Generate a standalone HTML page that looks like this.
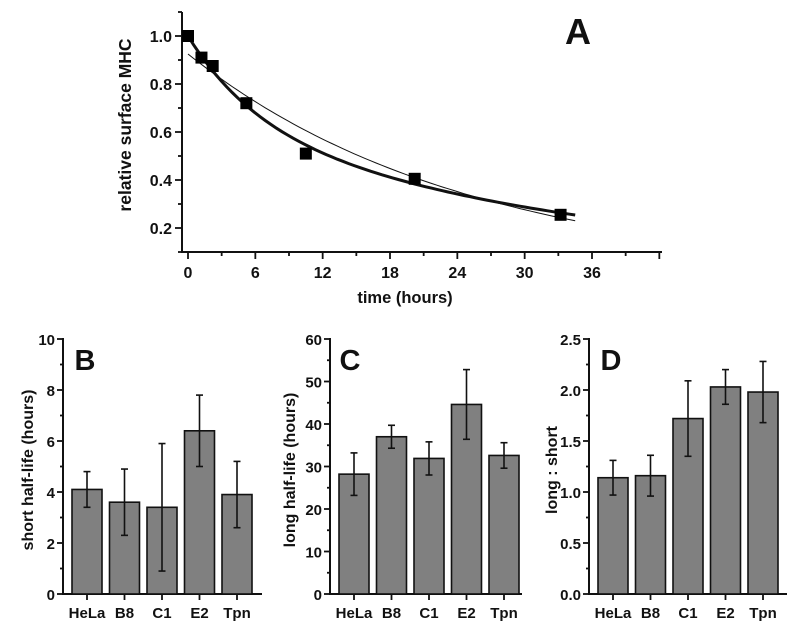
<!DOCTYPE html>
<html><head><meta charset="utf-8"><style>
body{margin:0;background:#fff}
svg text{font-family:"Liberation Sans",Arial,sans-serif;font-weight:bold;fill:#111}
</style></head><body>
<svg id="s" width="800" height="627" viewBox="0 0 800 627"></svg>
<script>
// Panel A data
const aTimes=[0,1.2,2.2,5.2,10.5,20.2,33.2];
const aValues=[1.0,0.91,0.875,0.72,0.51,0.405,0.255];
const aXTicks=[0,6,12,18,24,30,36];
const aYTicks=[0.2,0.4,0.6,0.8,1.0];
const singleFit=[0.925,0.0403]; // amplitude, rate
const doubleFit=[0.37,0.16,0.63,0.0265]; // a1,k1,a2,k2
// Bar panels
const categories=["HeLa","B8","C1","E2","Tpn"];
const shortVals=[4.1,3.6,3.4,6.4,3.9];
const shortErr=[0.7,1.3,2.5,1.4,1.3];
const longVals=[28.2,37,31.9,44.6,32.6];
const longErr=[5,2.7,3.9,8.2,3];
const ratioVals=[1.14,1.16,1.72,2.03,1.98];
const ratioErr=[0.17,0.2,0.37,0.17,0.3];
const bTicks=[0,2,4,6,8,10];
const cTicks=[0,10,20,30,40,50,60];
const dTicks=["0.0","0.5","1.0","1.5","2.0","2.5"];

const S=document.getElementById('s');const NS="http://www.w3.org/2000/svg";
function mk(t,a,txt){const e=document.createElementNS(NS,t);for(const k in a)e.setAttribute(k,a[k]);if(txt!=null)e.textContent=txt;S.appendChild(e);return e;}
function ln(x1,y1,x2,y2,w,name){const e=mk('line',{x1,y1,x2,y2,stroke:'#111','stroke-width':w||2});

return e;}
function tx(x,y,s,size,anchor,name,rot){const a={x,y,'font-size':size,'text-anchor':anchor||'middle'};if(rot)a.transform=rot;const e=mk('text',a,s);

return e;}

// ---- Panel A ----
const ax=t=>188+t*(404/36), ay=v=>36+(1-v)*240;
ln(182,12,182,253,2,'a-y-axis');ln(181,252,662,252,2,'a-x-axis');
for(let v=0.1;v<=1.1001;v+=0.1){const major=aYTicks.some(q=>Math.abs(q-v)<1e-6);ln(major?175:178,ay(v),182,ay(v),1.8,'a-y-tick');}
aYTicks.forEach(v=>tx(172,ay(v)+6,v.toFixed(1),16,'end','a-y-tick-label'));
for(let t=0;t<=42;t+=3){if(ax(t)>662)break;const major=t%6===0;ln(ax(t),252,ax(t),major?259:256,1.8,'a-x-tick');}
aXTicks.forEach(t=>tx(ax(t),278,String(t),16,'middle','a-x-tick-label'));
tx(405,303,'time (hours)',16.5,'middle','a-x-axis-title');
tx(0,0,'relative surface MHC',17.5,'middle','a-y-axis-title','translate(131,125) rotate(-90)');
tx(578,44,'A',36,'middle','panel-a-label');
let p1='',p2='';
for(let i=0;i<=70;i++){const t=i*34.5/70;
const v1=singleFit[0]*Math.exp(-singleFit[1]*t);
const v2=doubleFit[0]*Math.exp(-doubleFit[1]*t)+doubleFit[2]*Math.exp(-doubleFit[3]*t);
p1+=(i?'L':'M')+ax(t).toFixed(1)+','+ay(v1).toFixed(1);p2+=(i?'L':'M')+ax(t).toFixed(1)+','+ay(v2).toFixed(1);}
let e=mk('path',{d:p1,fill:'none',stroke:'#111','stroke-width':1});


e=mk('path',{d:p2,fill:'none',stroke:'#111','stroke-width':3});


aTimes.forEach((t,i)=>{const r=mk('rect',{x:ax(t)-6,y:ay(aValues[i])-6,width:12,height:12,fill:'#000'});

});

// ---- Bar panels ----
function barPanel(x0,xEnd,max,ticks,minorStep,vals,errs,ytitle,titleX,letter,letterX,pfx){
const top=339,bot=594,y=v=>bot-(v/max)*(bot-top),bx=i=>x0+9+i*37.5;
ln(x0,top-1,x0,bot+1,2,pfx+'-y-axis');ln(x0-1,bot,xEnd,bot,2,pfx+'-x-axis');
for(let v=0;v<=max+1e-9;v+=minorStep){const major=Math.abs(v/(minorStep*2)-Math.round(v/(minorStep*2)))<1e-6;ln(major?x0-6:x0-3,y(v),x0,y(v),1.8,pfx+'-y-tick');}
ticks.forEach(t=>tx(x0-8,y(parseFloat(t))+6,String(t),15,'end',pfx+'-y-tick-label'));
vals.forEach((v,i)=>{const r=mk('rect',{x:bx(i),y:y(v),width:30,height:bot-y(v),fill:'#808080',stroke:'#111','stroke-width':1.6});


const c=bx(i)+15;ln(c,y(v+errs[i]),c,y(v-errs[i]),1.6,pfx+'-error-bar');ln(c-3.5,y(v+errs[i]),c+3.5,y(v+errs[i]),1.6,pfx+'-error-cap');ln(c-3.5,y(v-errs[i]),c+3.5,y(v-errs[i]),1.6,pfx+'-error-cap');
ln(c,bot,c,bot+6,1.8,pfx+'-x-tick');
tx(c,618,categories[i],15,'middle',pfx+'-x-tick-label');});
tx(0,0,ytitle,16,'middle',pfx+'-y-axis-title','translate('+titleX+',470) rotate(-90)');
tx(letterX,370,letter,29,'middle','panel-'+pfx+'-label');}
barPanel(63,262,10,bTicks,1,shortVals,shortErr,'short half-life (hours)',33,'B',85,'b');
barPanel(330,522,60,cTicks,5,longVals,longErr,'long half-life (hours)',295,'C',350,'c');
barPanel(589,787,2.5,dTicks,0.25,ratioVals,ratioErr,'long : short',557,'D',611,'d');
</script>
</body></html>
